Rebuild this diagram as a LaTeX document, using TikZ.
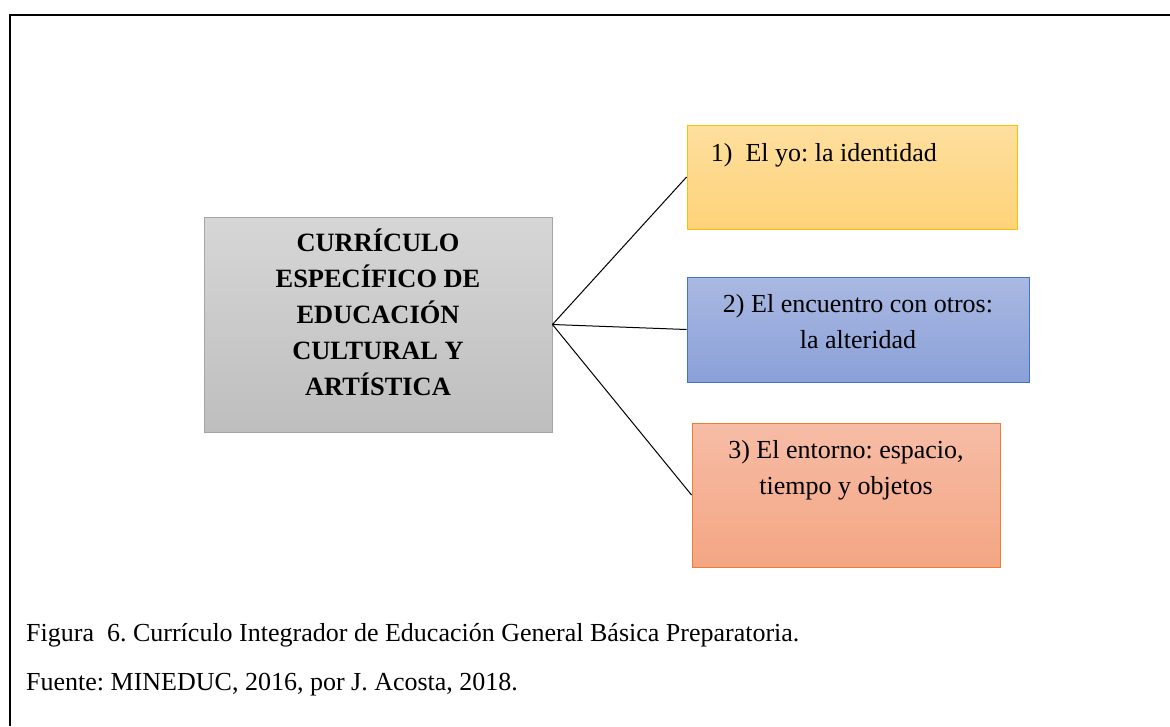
\documentclass[tikz,border=0pt]{standalone}
\usepackage{fontspec}
\setmainfont{Liberation Serif}
\frenchspacing
\begin{document}
\begin{tikzpicture}[x=1pt,y=-1pt,
  box/.style={rectangle, inner sep=0pt, line width=0.9pt},
  graybox/.style={box, draw={rgb,255:red,165;green,165;blue,165}, top color={rgb,255:red,214;green,214;blue,214}, bottom color={rgb,255:red,190;green,190;blue,190}},
  yellowbox/.style={box, draw={rgb,255:red,255;green,192;blue,0}, top color={rgb,255:red,254;green,223;blue,158}, bottom color={rgb,255:red,254;green,211;blue,122}},
  bluebox/.style={box, draw={rgb,255:red,68;green,114;blue,196}, top color={rgb,255:red,170;green,185;blue,226}, bottom color={rgb,255:red,138;green,160;blue,216}},
  orangebox/.style={box, draw={rgb,255:red,237;green,125;blue,49}, top color={rgb,255:red,246;green,188;blue,166}, bottom color={rgb,255:red,244;green,166;blue,131}},
  txt/.style={inner sep=0pt, font=\fontsize{26}{35.3}\selectfont, align=center},
  link/.style={draw=black, line width=1pt}
]
\useasboundingbox (0,0) rectangle (1170,726);
% frame
\coordinate (fr1) at (10,726);
\coordinate (fr2) at (10,15);
\coordinate (fr3) at (1170,15);
\draw[line width=2pt] (fr1) -- (fr2) -- (fr3);
% boxes
\node[graybox, minimum width=348pt, minimum height=215pt] (g) at (378,324.5) {};
\node[yellowbox, minimum width=330pt, minimum height=104pt] (y1) at (852,177) {};
\node[bluebox, minimum width=342pt, minimum height=105pt] (b2) at (858,329.5) {};
\node[orangebox, minimum width=308pt, minimum height=144pt] (o3) at (846,495) {};
% texts (base anchor = baseline of the last line)
\node[txt, anchor=base, font=\fontsize{26.4}{35.8}\selectfont\bfseries] (gt) at (378,395)
  {CURRÍCULO\\ESPECÍFICO DE\\EDUCACIÓN\\CULTURAL Y\\ARTÍSTICA};
\node[txt, anchor=base west] (yt) at (710.7,161) {1)\ \ El yo: la identidad};
\node[txt, anchor=base] (bt) at (858,348) {2) El encuentro con otros:\\la alteridad};
\node[txt, anchor=base] (ot) at (846,494) {3) El entorno: espacio,\\tiempo y objetos};
% connectors
\draw[link] (g.east) -- (y1.west);
\draw[link] (g.east) -- (b2.west);
\draw[link] (g.east) -- (o3.west);
% caption
\node[txt, anchor=base west] (cap1) at (26,641) {Figura\ \ 6. Currículo Integrador de Educación General Básica Preparatoria.};
\node[txt, anchor=base west] (cap2) at (26,690) {Fuente: MINEDUC, 2016, por J. Acosta, 2018.};
\end{tikzpicture}
\end{document}
